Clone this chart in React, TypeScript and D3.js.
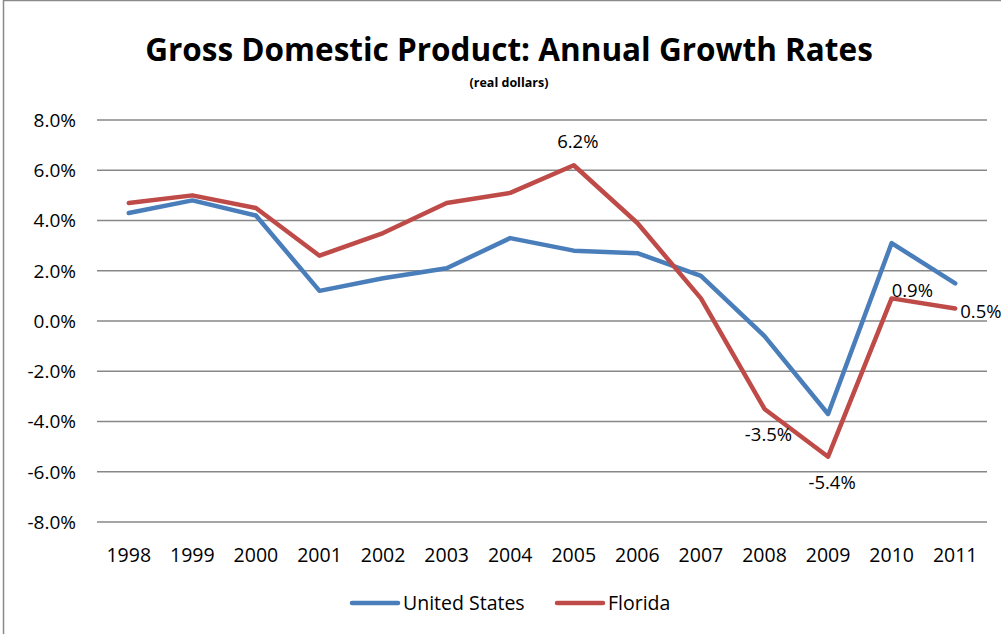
import React, { useEffect, useRef, RefObject } from "react";
import * as d3 from "d3";

const years = [
  "1998", "1999", "2000", "2001", "2002", "2003", "2004",
  "2005", "2006", "2007", "2008", "2009", "2010", "2011",
];
const usGrowth = [4.3, 4.8, 4.2, 1.2, 1.7, 2.1, 3.3, 2.8, 2.7, 1.8, -0.6, -3.7, 3.1, 1.5];
const flGrowth = [4.7, 5.0, 4.5, 2.6, 3.5, 4.7, 5.1, 6.2, 3.9, 0.9, -3.5, -5.4, 0.9, 0.5];
const yTicks = [-8, -6, -4, -2, 0, 2, 4, 6, 8];
// which Florida points carry a label, and where
const flLabels = [
  { year: "2005", pos: "above" },
  { year: "2008", pos: "below" },
  { year: "2009", pos: "below" },
  { year: "2010", pos: "aboveRight" },
  { year: "2011", pos: "right" },
];

const WIDTH = 1001,
  HEIGHT = 634;
const FONT = "'Open Sans', sans-serif";

export default function App(): React.ReactElement {
  const svgRef: RefObject<SVGSVGElement> = useRef(null);

  useEffect(() => {
    const svg = d3.select(svgRef.current);
    svg.selectChildren().remove();

    const x = d3.scaleBand().domain(years).range([97, 987]);
    const y = d3.scaleLinear().domain([-8, 8]).range([522, 120]);

    // chart frame
    svg
      .append("rect")
      .attr("x", 3.5)
      .attr("y", 0.5)
      .attr("width", WIDTH + 10)
      .attr("height", HEIGHT + 10)
      .attr("fill", "white")
      .attr("stroke", "#8a8a8a")
      .attr("stroke-width", 1.5);

    // title
    svg
      .append("text")
      .attr("x", 509)
      .attr("y", 61)
      .attr("text-anchor", "middle")
      .attr("font-family", FONT)
      .attr("font-weight", "bold")
      .attr("font-size", 31.5)
      .text("Gross Domestic Product: Annual Growth Rates");

    svg
      .append("text")
      .attr("x", 509)
      .attr("y", 87)
      .attr("text-anchor", "middle")
      .attr("font-family", FONT)
      .attr("font-weight", "bold")
      .attr("font-size", 12.5)
      .text("(real dollars)");

    // gridlines
    svg
      .append("g")
      .selectAll("line")
      .data(yTicks)
      .enter()
      .append("line")
      .attr("x1", 97)
      .attr("x2", 987)
      .attr("y1", (d) => y(d))
      .attr("y2", (d) => y(d))
      .attr("stroke", "#878787")
      .attr("stroke-width", 1.5);

    // y labels
    svg
      .append("g")
      .selectAll("text")
      .data(yTicks)
      .enter()
      .append("text")
      .attr("x", 76)
      .attr("y", (d) => y(d))
      .attr("dy", "0.36em")
      .attr("text-anchor", "end")
      .attr("font-family", FONT)
      .attr("font-size", 19)
      .text((d) => d.toFixed(1) + "%");

    // x labels
    svg
      .append("g")
      .selectAll("text")
      .data(years)
      .enter()
      .append("text")
      .attr("x", (d) => (x(d) as number) + x.bandwidth() / 2)
      .attr("y", 562)
      .attr("text-anchor", "middle")
      .attr("font-family", FONT)
      .attr("font-size", 19.5)
      .text((d) => d);

    const line = d3
      .line<number>()
      .x((_, i) => (x(years[i]) as number) + x.bandwidth() / 2)
      .y((d) => y(d));

    const series = [
      { name: "United States", values: usGrowth, color: "#4a7ebb" },
      { name: "Florida", values: flGrowth, color: "#be4b48" },
    ];

    svg
      .append("g")
      .selectAll("path")
      .data(series)
      .enter()
      .append("path")
      .attr("d", (d) => line(d.values))
      .attr("fill", "none")
      .attr("stroke", (d) => d.color)
      .attr("stroke-width", 4.5)
      .attr("stroke-linejoin", "round")
      .attr("stroke-linecap", "round");

    // data labels
    svg
      .append("g")
      .selectAll("text")
      .data(flLabels)
      .enter()
      .append("text")
      .attr("x", (d) => {
        const cx = (x(d.year) as number) + x.bandwidth() / 2;
        if (d.pos === "right") return cx + 5;
        if (d.pos === "aboveRight") return cx;
        return cx + 4;
      })
      .attr("y", (d) => {
        const v = flGrowth[years.indexOf(d.year)];
        if (d.pos === "above") return y(v) - 17;
        if (d.pos === "below") return y(v) + 32;
        if (d.pos === "aboveRight") return y(v) - 1;
        return y(v) + 10;
      })
      .attr("text-anchor", (d) =>
        d.pos === "right" || d.pos === "aboveRight" ? "start" : "middle"
      )
      .attr("font-family", FONT)
      .attr("font-size", 18.5)
      .text((d) => flGrowth[years.indexOf(d.year)].toFixed(1) + "%");

    // legend
    const legend = svg
      .append("g")
      .selectAll("g")
      .data(series)
      .enter()
      .append("g")
      .attr("transform", (_, i) => `translate(${i === 0 ? 352 : 557}, 603)`);

    legend
      .append("line")
      .attr("x1", 0)
      .attr("x2", 46)
      .attr("stroke", (d) => d.color)
      .attr("stroke-width", 4.5)
      .attr("stroke-linecap", "round");

    legend
      .append("text")
      .attr("x", 51)
      .attr("dy", "0.36em")
      .attr("font-family", FONT)
      .attr("font-size", 19.5)
      .text((d) => d.name);
  }, []);

  return (
    <div style={{ position: "fixed", left: 0, top: 0 }}>
      <svg
        xmlns="http://www.w3.org/2000/svg"
        ref={svgRef}
        width={WIDTH}
        height={HEIGHT}
        style={{ display: "block" }}
      />
    </div>
  );
}
